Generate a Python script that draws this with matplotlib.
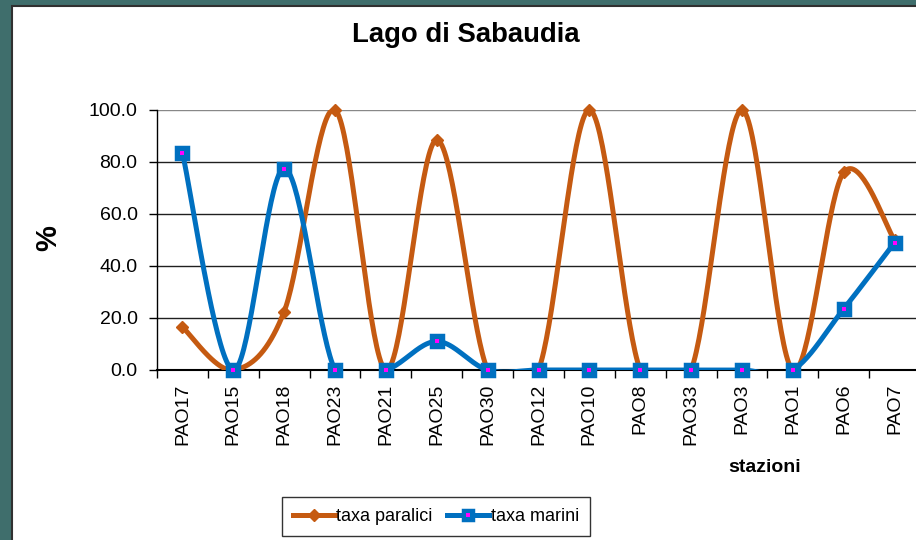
import numpy as np
import matplotlib
matplotlib.use("Agg")
import matplotlib.pyplot as plt
from matplotlib.lines import Line2D
from matplotlib.patches import Rectangle

plt.rcParams['font.family'] = ['Liberation Sans', 'DejaVu Sans']

stations = ["PAO17", "PAO15", "PAO18", "PAO23", "PAO21", "PAO25", "PAO30", "PAO12",
            "PAO10", "PAO8", "PAO33", "PAO3", "PAO1", "PAO6", "PAO7"]
paralici = [16.5, 0.0, 22.5, 100.0, 0.0, 88.5, 0.0, 0.0, 100.0, 0.0, 0.0, 100.0, 0.0, 76.0, 50.0]
marini = [83.5, 0.0, 77.5, 0.0, 0.0, 11.0, 0.0, 0.0, 0.0, 0.0, 0.0, 0.0, 0.0, 23.5, 49.0]
yticks = [0, 20, 40, 60, 80, 100]

ORANGE = "#C55A11"
BLUE = "#0070C0"


def smooth(xs, ys, n=40):
    xs = np.asarray(xs, float); ys = np.asarray(ys, float)
    P = np.column_stack([xs, ys])
    Pp = np.vstack([P[0], P, P[-1]])
    out = []
    for i in range(len(P) - 1):
        p0, p1, p2, p3 = Pp[i], Pp[i + 1], Pp[i + 2], Pp[i + 3]
        c1 = p1 + (p2 - p0) / 6.0
        c2 = p2 - (p3 - p1) / 6.0
        t = np.linspace(0, 1, n)[:, None]
        seg = ((1 - t) ** 3) * p1 + 3 * ((1 - t) ** 2) * t * c1 + 3 * (1 - t) * t ** 2 * c2 + t ** 3 * p2
        out.append(seg if i == 0 else seg[1:])
    s = np.vstack(out)
    return s[:, 0], s[:, 1]


fig = plt.figure(figsize=(9.16, 5.4), dpi=100)
fig.patch.set_facecolor("#3f6e6c")
fig.patches.append(Rectangle((12 / 916, -0.01), 1.0, 1 - 6 / 540 + 0.01, transform=fig.transFigure,
                             facecolor="white", edgecolor="#303030", lw=1.5, zorder=-10))

ax = fig.add_axes([157 / 916, 1 - 370 / 540, (920 - 157) / 916, 260 / 540])
ax.set_facecolor("none")
x = np.arange(len(stations))
ax.set_xlim(-0.5, len(stations) - 0.5)
ax.set_ylim(0, 100)

for v in yticks[1:]:
    ax.axhline(v, color="#888888" if v == 100 else "#202020", lw=1.0, zorder=1)

sx, sy = smooth(x, paralici)
ax.plot(sx, sy, color=ORANGE, lw=3.6, zorder=3, solid_capstyle="round", solid_joinstyle="round")
ax.plot(x, paralici, linestyle="none", marker="D", ms=6.5, color=ORANGE, zorder=4, clip_on=False)

sx, sy = smooth(x, marini)
ax.plot(sx, sy, color=BLUE, lw=3.6, zorder=5, solid_capstyle="round", solid_joinstyle="round")
ax.plot(x, marini, linestyle="none", marker="s", ms=8, mew=2.5, color=BLUE, mec=BLUE,
        zorder=6, clip_on=False)
ax.plot(x, marini, linestyle="none", marker="s", ms=2.5, color="#FF00FF", mew=0, zorder=7, clip_on=False)

for s in ["top", "right"]:
    ax.spines[s].set_visible(False)
ax.spines["left"].set_color("black")
ax.spines["bottom"].set_color("black")
ax.spines["left"].set_linewidth(1.0)
ax.spines["bottom"].set_linewidth(1.5)

ax.set_yticks(yticks)
ax.set_yticklabels([f"{v:.1f}" for v in yticks], fontsize=14)
ax.tick_params(axis="y", direction="out", length=6, width=1, pad=8)
ax.set_xticks(x)
ax.set_xticklabels(stations, rotation=90, fontsize=14)
ax.set_xticks(np.arange(-0.5, len(stations), 1.0), minor=True)
ax.tick_params(axis="x", which="major", length=0, pad=9.5)
ax.tick_params(axis="x", which="minor", direction="out", length=6, width=1)

fig.text(466 / 916, 1 - 35 / 540, "Lago di Sabaudia", ha="center", va="center",
         fontsize=19.8, fontweight="bold")
fig.text(48 / 916, 1 - 238 / 540, "%", ha="center", va="center", rotation=90,
         fontsize=21, fontweight="bold")
fig.text(765 / 916, 1 - 467 / 540, "stazioni", ha="center", va="center",
         fontsize=14, fontweight="bold")

h1 = Line2D([], [], color=ORANGE, lw=3.6, marker="D", ms=6.5)
h2a = Line2D([], [], color=BLUE, lw=3.6, marker="s", ms=7, mew=2.5, mec=BLUE)
h2b = Line2D([], [], color="#FF00FF", lw=0, marker="s", ms=2.5, mew=0)
leg = fig.legend([h1, (h2a, h2b)], ["taxa paralici", "taxa marini"], ncol=2,
                 loc="center", bbox_to_anchor=(436 / 916, 1 - 516.5 / 540), fontsize=13,
                 frameon=True, fancybox=False, edgecolor="black", handlelength=2.3,
                 handletextpad=0.1, columnspacing=0.8, borderpad=0.6)
leg.get_frame().set_linewidth(1.0)

fig.savefig("out.png", dpi=100, facecolor=fig.get_facecolor())
